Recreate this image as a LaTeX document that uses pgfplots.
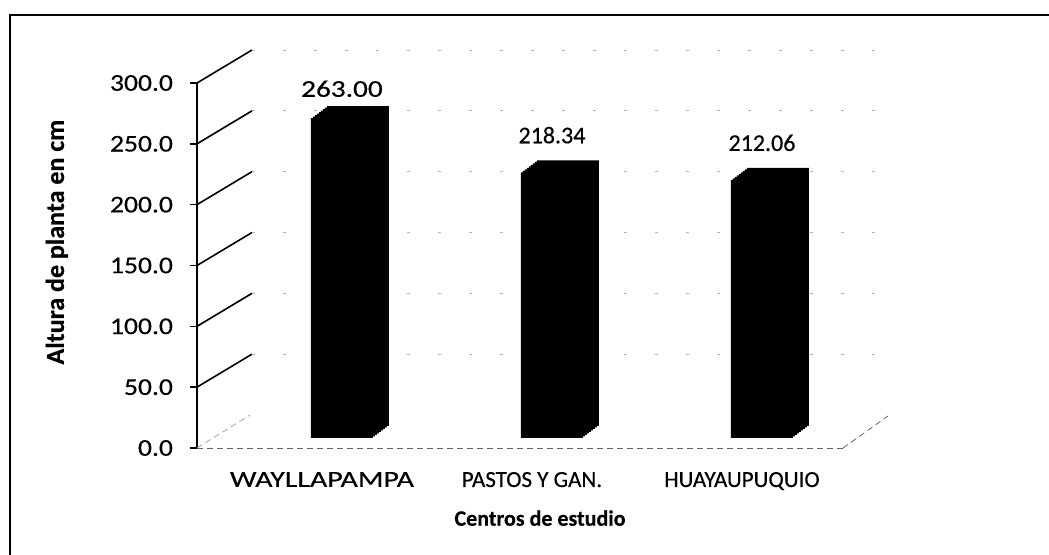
\documentclass[border=0pt]{standalone}
\usepackage{fontspec}
\setmainfont{Carlito}[FakeBold=0.4]
\newfontfamily\tickfont{Carlito}[FakeStretch=1.15, FakeBold=0.4]
\newfontfamily\wideA{Carlito}[FakeStretch=1.3, FakeBold=0.4]
\newfontfamily\wideB{Carlito}[FakeStretch=1.22, FakeBold=0.4]
\usepackage{pgfplots}
\pgfplotsset{compat=1.18}

\pgfplotstableread{
x  y
0  263.00
1  218.34
2  212.06
}\alturas

\begin{document}
\begin{tikzpicture}
\path[use as bounding box] (0,0) rectangle (524.5pt,277.5pt);
\draw[line width=1.2pt] (5pt,-10pt) -- (5pt,270pt) -- (540pt,270pt);
\begin{axis}[
  at={(98.5pt,53.5pt)}, anchor=south west,
  scale only axis, width=323pt, height=182.5pt,
  clip=false,
  xmin=-0.633, xmax=2.443,
  ymin=0, ymax=300,
  axis y line*=left,
  axis x line*=bottom,
  x axis line style={gray!80!black, densely dashed, thin},
  y axis line style={black, thick},
  xtick=data,
  xticklabels={{\wideA WAYLLAPAMPA}, PASTOS Y GAN., HUAYAUPUQUIO},
  xtick style={draw=none},
  xticklabel style={font=\fontsize{11.5}{13}\selectfont, xshift=-4pt, yshift=-5pt},
  ytick={0,50,...,300},
  ytick style={black, thick},
  tick align=outside,
  major tick length=3.5pt,
  yticklabel style={font=\tickfont\fontsize{12}{14}\selectfont, xshift=-5pt},
  /pgf/number format/assume math mode=true,
  yticklabel={\pgfmathprintnumber[fixed, fixed zerofill, precision=1]{\tick}},
  xlabel={\textbf{Centros de estudio}},
  ylabel={\textbf{Altura de planta en cm}},
  every axis x label/.style={at={(axis description cs:0.531,-0.192)}, anchor=center, font=\fontsize{11}{13}\selectfont},
  every axis y label/.style={at={(axis description cs:-0.217,0.564)}, rotate=90, anchor=center, font=\fontsize{13}{15}\selectfont},
]
% back wall
\draw[gray!70, thin, densely dashed] (axis cs:-0.633,0) -- ++(26.5pt,16.5pt);
\draw[black, thick] (axis cs:-0.633,50) -- ++(27.5pt,16.5pt);
\draw[black, thick] (axis cs:-0.633,100) -- ++(27.5pt,16.5pt);
\draw[black, thick] (axis cs:-0.633,150) -- ++(27.5pt,16.5pt);
\draw[black, thick] (axis cs:-0.633,200) -- ++(27.5pt,16.5pt);
\draw[black, thick] (axis cs:-0.633,250) -- ++(27.5pt,16.5pt);
\draw[black, thick] (axis cs:-0.633,300) -- ++(27.5pt,16.5pt);
\draw[gray!60, dash pattern=on 1.5pt off 14pt] ([shift={(27.5pt,16.5pt)}]axis cs:-0.633,50) -- ([shift={(22.5pt,16.5pt)}]axis cs:2.443,50);
\draw[gray!60, dash pattern=on 1.5pt off 14pt] ([shift={(27.5pt,16.5pt)}]axis cs:-0.633,100) -- ([shift={(22.5pt,16.5pt)}]axis cs:2.443,100);
\draw[gray!60, dash pattern=on 1.5pt off 14pt] ([shift={(27.5pt,16.5pt)}]axis cs:-0.633,150) -- ([shift={(22.5pt,16.5pt)}]axis cs:2.443,150);
\draw[gray!60, dash pattern=on 1.5pt off 14pt] ([shift={(27.5pt,16.5pt)}]axis cs:-0.633,200) -- ([shift={(22.5pt,16.5pt)}]axis cs:2.443,200);
\draw[gray!60, dash pattern=on 1.5pt off 14pt] ([shift={(27.5pt,16.5pt)}]axis cs:-0.633,250) -- ([shift={(22.5pt,16.5pt)}]axis cs:2.443,250);
\draw[gray!60, dash pattern=on 1.5pt off 14pt] ([shift={(27.5pt,16.5pt)}]axis cs:-0.633,300) -- ([shift={(22.5pt,16.5pt)}]axis cs:2.443,300);
% floor right edge
\draw[gray!80!black, densely dashed] (axis cs:2.443,0) -- ++(22.5pt,16pt);
% 3D bars built from stacked copies of the same data
\addplot[ybar, bar width=31pt, bar shift=0pt, fill=black, draw=none, xshift=6pt, yshift=5pt] table[x=x,y=y]{\alturas};
\addplot[ybar, bar width=31pt, bar shift=0pt, fill=black, draw=none, xshift=7pt, yshift=5.75pt] table[x=x,y=y]{\alturas};
\addplot[ybar, bar width=31pt, bar shift=0pt, fill=black, draw=none, xshift=8pt, yshift=6.5pt] table[x=x,y=y]{\alturas};
\addplot[ybar, bar width=31pt, bar shift=0pt, fill=black, draw=none, xshift=9pt, yshift=7.25pt] table[x=x,y=y]{\alturas};
\addplot[ybar, bar width=31pt, bar shift=0pt, fill=black, draw=none, xshift=10pt, yshift=8pt] table[x=x,y=y]{\alturas};
\addplot[ybar, bar width=31pt, bar shift=0pt, fill=black, draw=none, xshift=11pt, yshift=8.75pt] table[x=x,y=y]{\alturas};
\addplot[ybar, bar width=31pt, bar shift=0pt, fill=black, draw=none, xshift=12pt, yshift=9.5pt] table[x=x,y=y]{\alturas};
\addplot[ybar, bar width=31pt, bar shift=0pt, fill=black, draw=none, xshift=13pt, yshift=10.25pt] table[x=x,y=y]{\alturas};
\addplot[ybar, bar width=31pt, bar shift=0pt, fill=black, draw=none, xshift=14pt, yshift=11pt,
  nodes near coords={\ifnum\coordindex=0 {\wideB\pgfmathprintnumber[fixed, fixed zerofill, precision=2]{\pgfplotspointmeta}}\else\raisebox{4pt}{\pgfmathprintnumber[fixed, fixed zerofill, precision=2]{\pgfplotspointmeta}}\fi},
  nodes near coords style={font=\fontsize{12}{14}\selectfont, black, anchor=south, xshift=-8pt, yshift=1pt},
  /pgf/number format/assume math mode=true] table[x=x,y=y]{\alturas};
\end{axis}
\end{tikzpicture}
\end{document}
